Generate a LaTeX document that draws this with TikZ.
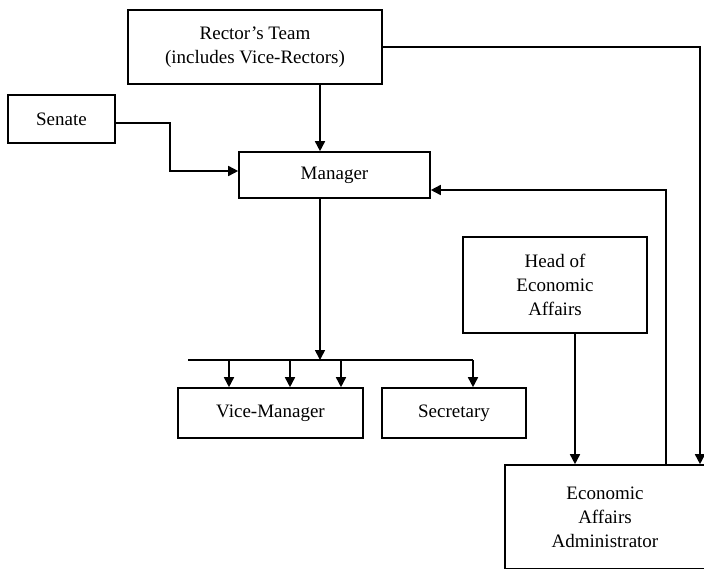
\documentclass[tikz,border=0pt]{standalone}
\usepackage{fontspec}
\setmainfont{Liberation Serif}
\usetikzlibrary{arrows.meta}
\begin{document}
\begin{tikzpicture}[x=1pt,y=-1pt,
  box/.style={draw,line width=1.6pt,align=center,inner sep=0pt,
    font=\fontsize{19}{24}\selectfont},
  conn/.style={line width=1.6pt},
  arr/.style={conn,-{Triangle[length=10pt,width=10pt]}}]
\useasboundingbox (0,0) rectangle (704,568);
\begin{scope}
\clip (0,0) rectangle (704,568);
\node[box,minimum width=254pt,minimum height=74pt] (rector) at (255,47) {Rector's Team\\(includes Vice-Rectors)};
\node[box,minimum width=107pt,minimum height=48pt] (senate) at (61.5,119) {Senate};
\node[box,minimum width=191pt,minimum height=46pt] (manager) at (334.5,175) {Manager};
\node[box,minimum width=185pt,minimum height=50pt] (vice) at (270.5,413) {Vice-Manager};
\node[box,minimum width=144pt,minimum height=50pt] (sec) at (454,413) {Secretary};
\node[box,minimum width=184pt,minimum height=96pt] (head) at (555,285) {Head of\\Economic\\Affairs};
\node[box,minimum width=200pt,minimum height=104pt] (eaa) at (605,517) {Economic\\Affairs\\Administrator};

\coordinate (busL) at (188,360);
\coordinate (busR) at (473,360);
\coordinate (busM) at (320,360);

\draw[arr] (rector.south -| busM) -- (manager.north -| busM);
\draw[arr] (senate.east |- 0,123) -- (170,123) -- (170,171) -- (manager.west |- 0,171);
\draw[arr] (manager.south -| busM) -- (busM);
\draw[conn] (busL) -- (busR);
\foreach \xx in {229,290,341} {
  \draw[arr] (\xx,360) -- (vice.north -| \xx,0);
}
\draw[arr] (busR) -- (sec.north -| busR);
\draw[arr] (head.south -| 575,0) -- (eaa.north -| 575,0);
\draw[arr] (eaa.north -| 666,0) -- (666,190) -- (manager.east |- 0,190);
\draw[arr] (rector.east) -- (700,47) -- (eaa.north -| 700,0);
\end{scope}
\end{tikzpicture}
\end{document}
